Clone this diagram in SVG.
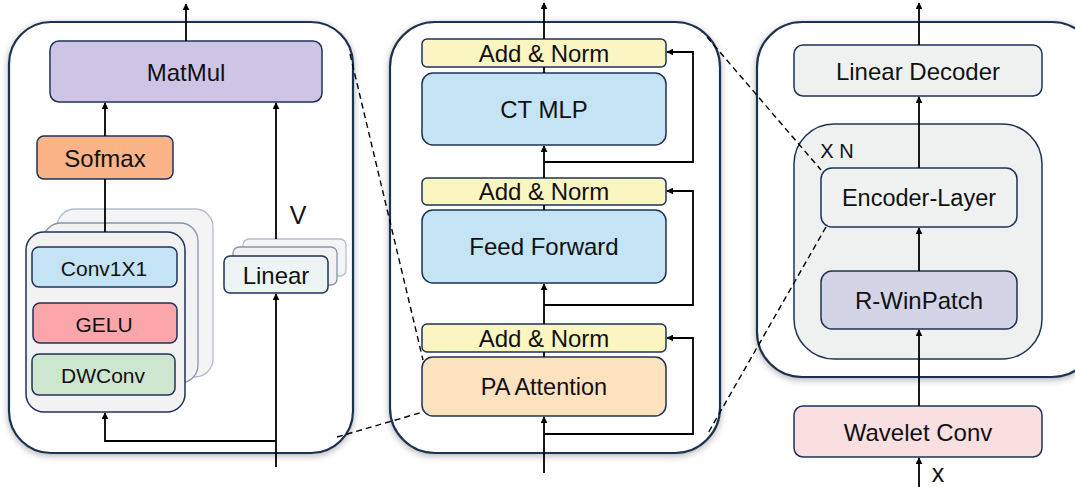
<svg xmlns="http://www.w3.org/2000/svg" width="1075" height="487" viewBox="0 0 1075 487">
  <style>
    text { font-family: "Liberation Sans", Arial, sans-serif; fill: #111; text-anchor: middle; dominant-baseline: central; }
    .panel { fill: #ffffff; stroke: #1e3355; stroke-width: 2.2; }
    .box { stroke: #1e3355; stroke-width: 1.5; }
    .ghost { fill: #f4f4f5; stroke: #b4bccb; stroke-width: 1.3; }
    .ghost-near { fill: #f2f2f3; stroke: #8794ab; stroke-width: 1.3; }
    .wire { fill: none; stroke: #000; stroke-width: 1.8; }
    .dash { fill: none; stroke: #000; stroke-width: 1.4; stroke-dasharray: 6 4; }
    .t24 { font-size: 24px; }
    .t21 { font-size: 21px; }
  </style>
  <defs>
    <marker id="arrow" viewBox="0 0 10 10" refX="9" refY="5" markerWidth="7" markerHeight="7" markerUnits="userSpaceOnUse" orient="auto">
      <path d="M0,0 L10,5 L0,10 z" fill="#000"/>
    </marker>
    <filter id="shadow" x="-10%" y="-10%" width="120%" height="120%">
      <feDropShadow dx="0" dy="2" stdDeviation="3.5" flood-color="#000" flood-opacity="0.3"/>
    </filter>
  </defs>

  <!-- panel frames -->
  <g id="panel-attention">
    <rect class="panel" x="9" y="22" width="344" height="431" rx="42" filter="url(#shadow)"/>
  </g>
  <g id="panel-encoder-layer">
    <rect class="panel" x="390" y="22" width="330" height="431" rx="45" filter="url(#shadow)"/>
  </g>
  <g id="panel-model">
    <rect class="panel" x="757" y="22" width="340" height="355" rx="45" filter="url(#shadow)"/>
  </g>

  <!-- left panel: attention internals -->
  <g id="matmul">
    <rect class="box" x="50" y="41" width="272" height="61" rx="9" fill="#cdc4e6"/>
    <text class="t24" x="186" y="72">MatMul</text>
  </g>
  <g id="sofmax">
    <rect class="box" x="37" y="136" width="136" height="43" rx="7" fill="#fbb487"/>
    <text class="t24" x="105" y="158">Sofmax</text>
  </g>
  <g id="conv-stack">
    <rect class="ghost" x="57" y="209" width="156" height="168" rx="18"/>
    <rect class="ghost-near" x="43" y="223" width="155" height="160" rx="18"/>
    <rect class="box" x="26" y="232" width="159" height="180" rx="18" fill="#f2f2f3"/>
  </g>
  <g id="conv1x1">
    <rect class="box" x="32" y="247" width="145" height="40" rx="7" fill="#c4e4f5"/>
    <text class="t21" x="104" y="268">Conv1X1</text>
  </g>
  <g id="gelu">
    <rect class="box" x="33" y="303" width="144" height="40" rx="7" fill="#fba6aa"/>
    <text class="t21" x="104" y="324">GELU</text>
  </g>
  <g id="dwconv">
    <rect class="box" x="32" y="354" width="143" height="41" rx="7" fill="#cde6d0"/>
    <text class="t21" x="103" y="375">DWConv</text>
  </g>
  <g id="linear">
    <rect class="ghost" x="243" y="239" width="103" height="37" rx="6"/>
    <rect class="ghost-near" x="233" y="247" width="104" height="38" rx="6"/>
    <rect class="box" x="224" y="256" width="104" height="37" rx="6" fill="#eef3f3"/>
    <text class="t24" x="276" y="275">Linear</text>
  </g>
  <g id="label-v">
    <text x="298" y="215" font-size="25">V</text>
  </g>

  <!-- middle panel: encoder layer -->
  <g id="add-norm-top">
    <rect class="box" x="422" y="39" width="244" height="28" rx="5" fill="#fbf5c1"/>
    <text class="t24" x="544" y="53">Add &amp; Norm</text>
  </g>
  <g id="ct-mlp">
    <rect class="box" x="422" y="73" width="244" height="72" rx="11" fill="#c4e4f5"/>
    <text class="t24" x="544" y="109">CT MLP</text>
  </g>
  <g id="add-norm-mid">
    <rect class="box" x="422" y="178" width="244" height="27" rx="5" fill="#fbf5c1"/>
    <text class="t24" x="544" y="191">Add &amp; Norm</text>
  </g>
  <g id="feed-forward">
    <rect class="box" x="422" y="210" width="244" height="73" rx="11" fill="#c4e4f5"/>
    <text class="t24" x="544" y="246">Feed Forward</text>
  </g>
  <g id="add-norm-low">
    <rect class="box" x="422" y="324" width="244" height="28" rx="5" fill="#fbf5c1"/>
    <text class="t24" x="544" y="338">Add &amp; Norm</text>
  </g>
  <g id="pa-attention">
    <rect class="box" x="422" y="357" width="244" height="59" rx="11" fill="#fde2bf"/>
    <text x="544" y="387" font-size="23.5">PA Attention</text>
  </g>

  <!-- right panel: full model -->
  <g id="linear-decoder">
    <rect class="box" x="794" y="45" width="248" height="51" rx="9" fill="#eff1f1"/>
    <text class="t24" x="918" y="71">Linear Decoder</text>
  </g>
  <g id="repeat-block">
    <rect class="box" x="794" y="124" width="248" height="235" rx="40" fill="#eff1f1"/>
    <text x="837" y="151" font-size="20">X N</text>
  </g>
  <g id="encoder-layer">
    <rect class="box" x="821" y="168" width="196" height="59" rx="11" fill="#f0f2f2"/>
    <text x="919" y="198" font-size="23.5">Encoder-Layer</text>
  </g>
  <g id="r-winpatch">
    <rect class="box" x="821" y="271" width="196" height="58" rx="11" fill="#d3d5e7"/>
    <text class="t24" x="919" y="300">R-WinPatch</text>
  </g>
  <g id="wavelet-conv">
    <rect class="box" x="794" y="406" width="248" height="51" rx="9" fill="#fadfe1"/>
    <text class="t24" x="918" y="432">Wavelet Conv</text>
  </g>
  <g id="label-x">
    <text x="938" y="473" font-size="25">x</text>
  </g>

  <!-- connectors -->
  <g id="connectors">
    <!-- left panel -->
    <line class="wire" x1="186" y1="41" x2="186" y2="4" marker-end="url(#arrow)"/>
    <line class="wire" x1="105" y1="136" x2="105" y2="103" marker-end="url(#arrow)"/>
    <line class="wire" x1="105" y1="179" x2="105" y2="232" stroke-width="1.4"/>
    <line class="wire" x1="276" y1="239" x2="276" y2="103" marker-end="url(#arrow)"/>
    <line class="wire" x1="276" y1="467" x2="276" y2="294" marker-end="url(#arrow)"/>
    <polyline class="wire" points="276,441 105,441 105,413" marker-end="url(#arrow)"/>

    <!-- middle panel -->
    <line class="wire" x1="544" y1="39" x2="544" y2="3" marker-end="url(#arrow)"/>
    <line class="wire" x1="544" y1="67" x2="544" y2="73"/>
    <line class="wire" x1="544" y1="178" x2="544" y2="146" marker-end="url(#arrow)"/>
    <polyline class="wire" points="544,162 693,162 693,52 667,52" marker-end="url(#arrow)"/>
    <line class="wire" x1="544" y1="205" x2="544" y2="210"/>
    <line class="wire" x1="544" y1="324" x2="544" y2="284" marker-end="url(#arrow)"/>
    <polyline class="wire" points="544,305 693,305 693,191 667,191" marker-end="url(#arrow)"/>
    <line class="wire" x1="544" y1="352" x2="544" y2="357"/>
    <line class="wire" x1="544" y1="473" x2="544" y2="417" marker-end="url(#arrow)"/>
    <polyline class="wire" points="544,434 693,434 693,338 667,338" marker-end="url(#arrow)"/>

    <!-- right panel -->
    <line class="wire" x1="919" y1="45" x2="919" y2="3" marker-end="url(#arrow)"/>
    <line class="wire" x1="919" y1="168" x2="919" y2="97" marker-end="url(#arrow)"/>
    <line class="wire" x1="919" y1="271" x2="919" y2="228" marker-end="url(#arrow)"/>
    <line class="wire" x1="919" y1="406" x2="919" y2="330" marker-end="url(#arrow)"/>
    <line class="wire" x1="919" y1="487" x2="919" y2="458" marker-end="url(#arrow)"/>

    <!-- zoom guides -->
    <line class="dash" x1="350" y1="54" x2="423" y2="360"/>
    <line class="dash" x1="337" y1="437" x2="423" y2="412"/>
    <line class="dash" x1="707" y1="37" x2="821" y2="170"/>
    <line class="dash" x1="826" y1="227" x2="707" y2="435"/>
  </g>
</svg>
